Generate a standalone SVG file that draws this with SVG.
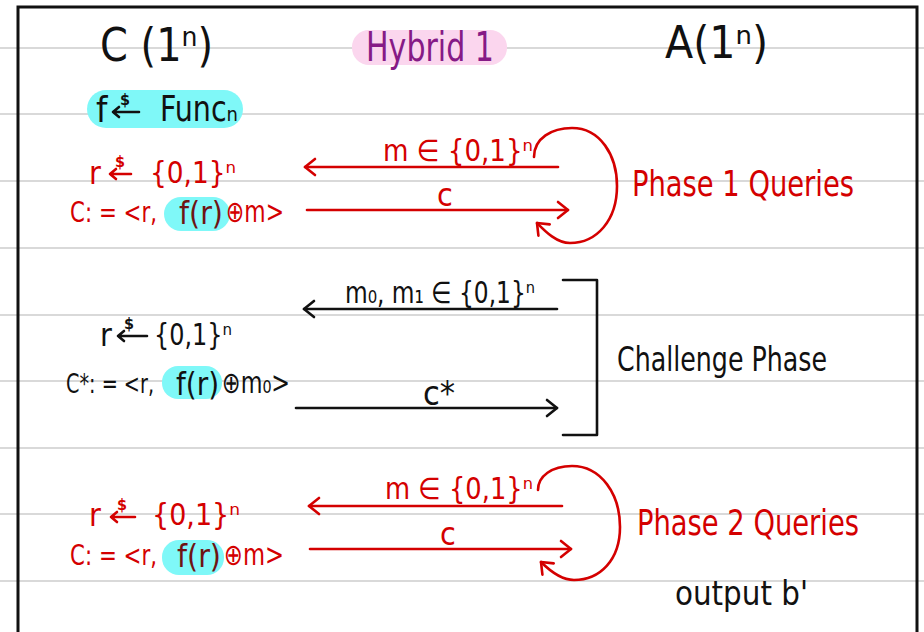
<svg xmlns="http://www.w3.org/2000/svg" width="924" height="632" viewBox="0 0 924 632">
<defs>
<style>
.t{font-family:"Liberation Sans Narrow","DejaVu Sans Condensed","Liberation Sans",sans-serif}
.red{fill:#d40000}
.blk{fill:#111}
.dk{fill:#6e1414}
.pur{fill:#861a86}
.rule{stroke:#d9d9d9;stroke-width:2}
.lr{stroke:#d40000;stroke-width:2.6;fill:none;stroke-linecap:round;stroke-linejoin:round}
.lb{stroke:#111;stroke-width:2.6;fill:none;stroke-linecap:round;stroke-linejoin:round}
.cy{fill:#7ff8f8}
.ds{font-size:16px;font-weight:bold}
</style>
<marker id="ar" viewBox="0 0 14 20" refX="12" refY="10" markerWidth="14" markerHeight="20" markerUnits="userSpaceOnUse" orient="auto">
<path d="M2,2 L12,10 L2,18" fill="none" stroke="#d40000" stroke-width="2.6" stroke-linecap="round" stroke-linejoin="round"/>
</marker>
<marker id="ab" viewBox="0 0 14 20" refX="12" refY="10" markerWidth="14" markerHeight="20" markerUnits="userSpaceOnUse" orient="auto">
<path d="M2,2 L12,10 L2,18" fill="none" stroke="#111" stroke-width="2.6" stroke-linecap="round" stroke-linejoin="round"/>
</marker>
</defs>
<rect width="924" height="632" fill="#fff"/>
<g id="rules">
<line class="rule" x1="0" y1="48" x2="924" y2="48"/>
<line class="rule" x1="0" y1="114" x2="924" y2="114"/>
<line class="rule" x1="0" y1="181" x2="924" y2="181"/>
<line class="rule" x1="0" y1="248" x2="924" y2="248"/>
<line class="rule" x1="0" y1="315" x2="924" y2="315"/>
<line class="rule" x1="0" y1="381" x2="924" y2="381"/>
<line class="rule" x1="0" y1="448" x2="924" y2="448"/>
<line class="rule" x1="0" y1="514" x2="924" y2="514"/>
<line class="rule" x1="0" y1="581" x2="924" y2="581"/>
</g>
<path id="border" d="M18,632 V7 H917 V632" fill="none" stroke="#111" stroke-width="3"/>

<g id="challenger-title">
<text class="t blk" x="100" y="61" font-size="46" textLength="113" lengthAdjust="spacingAndGlyphs">C (1ⁿ)</text>
</g>
<g id="hybrid-title">
<rect x="352" y="30" width="155" height="35" rx="17" fill="#fbd6ee"/>
<text class="t pur" x="366" y="61" font-size="40" textLength="128" lengthAdjust="spacingAndGlyphs">Hybrid 1</text>
</g>
<g id="adversary-title">
<text class="t blk" x="665" y="58" font-size="44" textLength="103" lengthAdjust="spacingAndGlyphs">A(1ⁿ)</text>
</g>
<g id="func-sample">
<rect class="cy" x="87" y="90" width="156" height="38" rx="19"/>
<text class="t blk" x="96" y="122" font-size="36">f</text>
<path class="lb" d="M139,112 H113 M119,107 L113,112 L119,117"/>
<text class="t blk ds" x="120" y="105">$</text>
<text class="t blk" x="160" y="121" font-size="36" textLength="78" lengthAdjust="spacingAndGlyphs">Funcₙ</text>
</g>

<g id="phase1-challenger">
<text class="t red" x="89" y="184" font-size="32">r</text>
<path class="lr" d="M131,174 H110 M116,169 L110,174 L116,179"/>
<text class="t red ds" x="115" y="167">$</text>
<text class="t red" x="150" y="183" font-size="30" textLength="86" lengthAdjust="spacingAndGlyphs">{0,1}ⁿ</text>
<rect class="cy" x="164" y="197" width="66" height="34" rx="17"/>
<text class="t red" x="70" y="222" font-size="28" textLength="87" lengthAdjust="spacingAndGlyphs">C: = &lt;r,</text>
<text class="t dk" x="179" y="224" font-size="32" textLength="44" lengthAdjust="spacingAndGlyphs">f(r)</text>
<text class="t red" x="226" y="222" font-size="30" textLength="58" lengthAdjust="spacingAndGlyphs">⊕m&gt;</text>
</g>
<g id="phase1-label">
<text class="t red" x="632" y="196" font-size="36" textLength="222" lengthAdjust="spacingAndGlyphs">Phase 1 Queries</text>
</g>

<g id="challenge-challenger">
<text class="t blk" x="100" y="346" font-size="32">r</text>
<path class="lb" d="M147,336 H118 M124,331 L118,336 L124,341"/>
<text class="t blk ds" x="124" y="329">$</text>
<text class="t blk" x="154" y="345" font-size="30" textLength="78" lengthAdjust="spacingAndGlyphs">{0,1}ⁿ</text>
<rect class="cy" x="162" y="366" width="60" height="33" rx="16"/>
<text class="t blk" x="66" y="393" font-size="26" textLength="88" lengthAdjust="spacingAndGlyphs">C*: = &lt;r,</text>
<text class="t blk" x="176" y="395" font-size="32" textLength="43" lengthAdjust="spacingAndGlyphs">f(r)</text>
<text class="t blk" x="222" y="393" font-size="30" textLength="68" lengthAdjust="spacingAndGlyphs">⊕m₀&gt;</text>
</g>
<g id="challenge-label">
<text class="t blk" x="617" y="371" font-size="34" textLength="210" lengthAdjust="spacingAndGlyphs">Challenge Phase</text>
</g>

<g id="phase2-challenger">
<text class="t red" x="89" y="526" font-size="32">r</text>
<path class="lr" d="M135,517 H111 M117,512 L111,517 L117,522"/>
<text class="t red ds" x="117" y="510">$</text>
<text class="t red" x="152" y="525" font-size="30" textLength="88" lengthAdjust="spacingAndGlyphs">{0,1}ⁿ</text>
<rect class="cy" x="162" y="540" width="62" height="35" rx="17"/>
<text class="t red" x="70" y="565" font-size="28" textLength="87" lengthAdjust="spacingAndGlyphs">C: = &lt;r,</text>
<text class="t dk" x="177" y="567" font-size="32" textLength="44" lengthAdjust="spacingAndGlyphs">f(r)</text>
<text class="t red" x="224" y="565" font-size="30" textLength="60" lengthAdjust="spacingAndGlyphs">⊕m&gt;</text>
</g>
<g id="phase2-label">
<text class="t red" x="637" y="535" font-size="36" textLength="222" lengthAdjust="spacingAndGlyphs">Phase 2 Queries</text>
</g>
<g id="output">
<text class="t blk" x="675" y="605" font-size="34" textLength="133" lengthAdjust="spacingAndGlyphs">output b'</text>
</g>

<g id="connectors">
<line class="lr" x1="558" y1="167" x2="305" y2="167" marker-end="url(#ar)"/>
<text class="t red" x="383" y="161" font-size="30" textLength="150" lengthAdjust="spacingAndGlyphs">m ∈ {0,1}ⁿ</text>
<line class="lr" x1="307" y1="210" x2="568" y2="210" marker-end="url(#ar)"/>
<text class="t red" x="437" y="206" font-size="32">c</text>
<path class="lr" d="M534,157 C534,138 552,128 572,128 C600,128 617,155 617,186 C617,220 597,243 570,243 C556,243 544,230 537,223" marker-end="url(#ar)"/>

<line class="lb" x1="557" y1="309" x2="304" y2="309" marker-end="url(#ab)"/>
<text class="t blk" x="345" y="303" font-size="30" textLength="190" lengthAdjust="spacingAndGlyphs">m₀, m₁ ∈ {0,1}ⁿ</text>
<line class="lb" x1="296" y1="408" x2="557" y2="408" marker-end="url(#ab)"/>
<text class="t blk" x="423" y="405" font-size="34">c*</text>
<path class="lb" d="M563,280 H597 V435 H563" stroke-linecap="butt"/>

<line class="lr" x1="562" y1="506" x2="309" y2="506" marker-end="url(#ar)"/>
<text class="t red" x="385" y="499" font-size="30" textLength="148" lengthAdjust="spacingAndGlyphs">m ∈ {0,1}ⁿ</text>
<line class="lr" x1="310" y1="549" x2="571" y2="549" marker-end="url(#ar)"/>
<text class="t red" x="440" y="545" font-size="32">c</text>
<path class="lr" d="M538,490 C538,476 552,466 572,466 C601,466 620,494 620,527 C620,560 600,580 574,580 C560,580 548,569 541,562" marker-end="url(#ar)"/>
</g>
</svg>
